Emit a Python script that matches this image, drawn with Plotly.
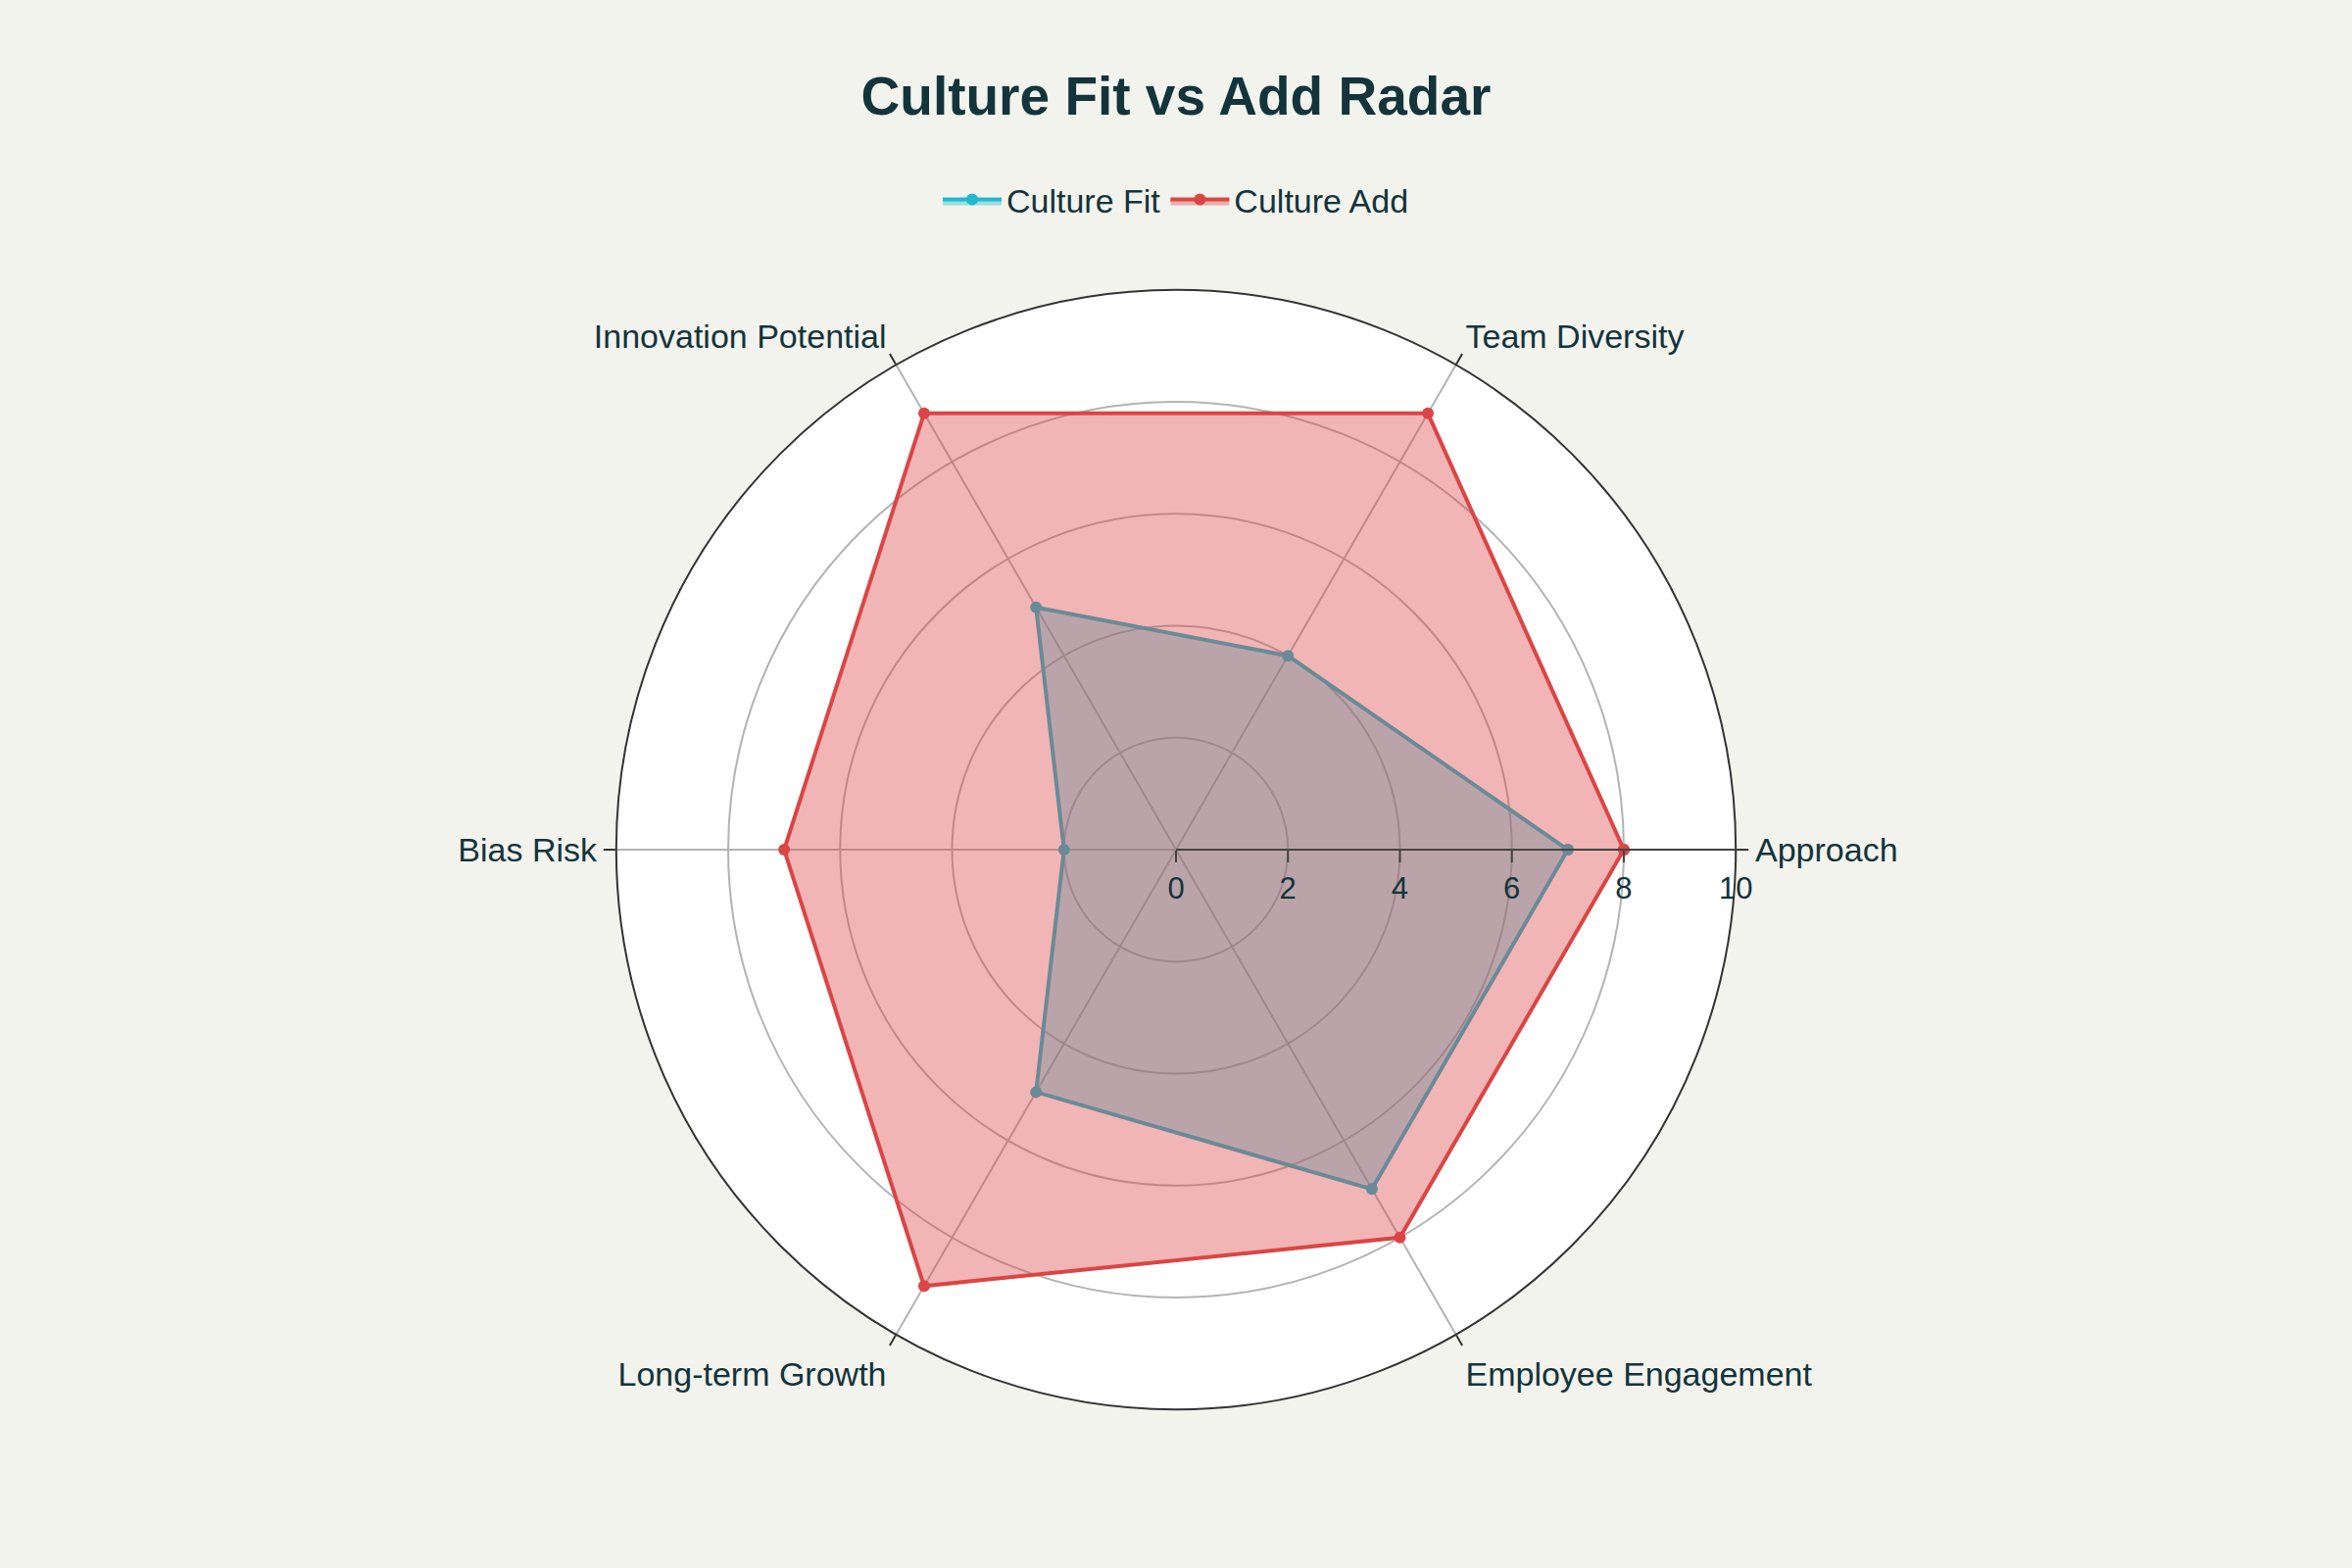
import plotly.graph_objects as go

categories = ["Approach", "Team Diversity", "Innovation Potential", "Bias Risk",
              "Long-term Growth", "Employee Engagement"]
culture_fit = [7, 4, 5, 2, 5, 7]
culture_add = [8, 9, 9, 7, 9, 8]
radial_ticks = [0, 2, 4, 6, 8, 10]

TEXT = "#13343B"
FONT = "Liberation Sans"

theta = categories + categories[:1]

fig = go.Figure()
fig.add_trace(go.Scatterpolar(
    r=culture_fit + culture_fit[:1], theta=theta, name="Culture Fit",
    mode="lines+markers", fill="toself",
    line=dict(color="#1FB8CD", width=4),
    marker=dict(color="#1FB8CD", size=12),
    fillcolor="rgba(31,184,205,0.4)",
))
fig.add_trace(go.Scatterpolar(
    r=culture_add + culture_add[:1], theta=theta, name="Culture Add",
    mode="lines+markers", fill="toself",
    line=dict(color="#DB4545", width=4),
    marker=dict(color="#DB4545", size=12),
    fillcolor="rgba(219,69,69,0.4)",
))

fig.update_layout(
    width=2400, height=1600,
    paper_bgcolor="#F3F3EE",
    font=dict(family=FONT, color=TEXT, size=33),
    margin=dict(l=0, r=0, t=0, b=0),
    title=dict(text="<b>Culture Fit vs Add Radar</b>", x=0.5, xanchor="center",
               y=1 - 98 / 1600, yanchor="middle",
               font=dict(size=55, color=TEXT, family=FONT)),
    legend=dict(orientation="h", x=0.5, xanchor="center", y=1 - 204 / 1600,
                yanchor="middle", font=dict(size=34, color=TEXT),
                itemwidth=60, bgcolor="rgba(0,0,0,0)"),
    polar=dict(
        domain=dict(x=[0.262, 0.738], y=[0.1006, 0.8156]),
        bgcolor="white",
        angularaxis=dict(direction="counterclockwise", rotation=0,
                         showline=True, linecolor="#333333", linewidth=2,
                         ticks="outside", ticklen=12, tickcolor="#333333", tickwidth=2,
                         gridcolor="#b3b3b3", gridwidth=2,
                         tickfont=dict(size=34, color=TEXT)),
        radialaxis=dict(range=[0, 10], tickvals=radial_ticks, angle=0, tickangle=0,
                        showline=True, linecolor="#444444", linewidth=2,
                        ticks="outside", ticklen=12, tickcolor="#444444", tickwidth=2,
                        gridcolor="#b3b3b3", gridwidth=2,
                        tickfont=dict(size=31, color=TEXT)),
    ),
)

fig.write_html("out.html", config={"displayModeBar": False},
               post_script="document.body.style.margin='0';document.body.style.overflow='hidden';")
